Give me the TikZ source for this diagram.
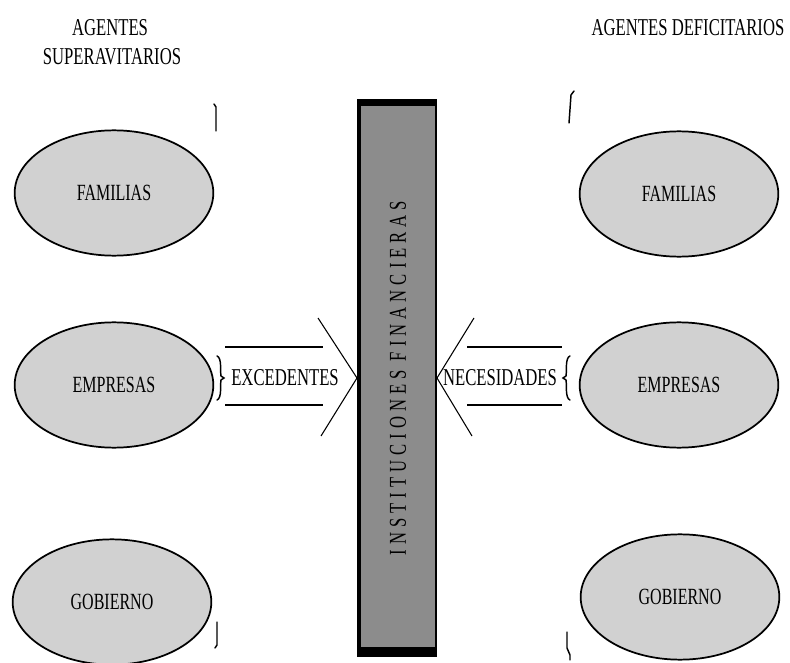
\documentclass[tikz,border=0pt]{standalone}
\usepackage{fontspec}
\usetikzlibrary{shapes.geometric}
\setmainfont{Liberation Serif}
\newfontfamily\spacedfont[LetterSpace=30]{Liberation Serif}
\newcommand{\stre}[1]{\scalebox{1}[1.45]{#1}}
\begin{document}
\begin{tikzpicture}[x=0.75pt,y=-0.75pt,
  txt/.style={inner sep=0pt,font=\fontsize{12.5}{14}\selectfont},
  agent/.style={ellipse,draw=black,line width=1.3pt,fill=black!18,
    minimum width=149pt,minimum height=94pt,inner sep=0pt,
    font=\fontsize{12}{14}\selectfont},
  frag/.style={line width=1.1pt,line cap=round},
  thin/.style={line width=0.8pt}]
\useasboundingbox (0,0) rectangle (790,663);
% headers
\node[txt] (hl1) at (110,28) {\stre{AGENTES}};
\node[txt] (hl2) at (112,57) {\stre{SUPERAVITARIOS}};
\node[txt] (hr) at (688,28) {\stre{AGENTES DEFICITARIOS}};
% left ellipses
\node[agent] (lf) at (114,193) {\stre{FAMILIAS}};
\node[agent] (le) at (114,385) {\stre{EMPRESAS}};
\node[agent] (lg) at (112,602) {\stre{GOBIERNO}};
% right ellipses
\node[agent] (rf) at (679,194) {\stre{FAMILIAS}};
\node[agent] (re) at (679,385) {\stre{EMPRESAS}};
\node[agent] (rg) at (680,597) {\stre{GOBIERNO}};
% central box
\fill[black!45] (358,101) rectangle (436,652);
\draw[line width=3pt] (359,103) -- (359,654);
\draw[line width=1.6pt] (436,102) -- (436,654);
\fill[black] (357,99) rectangle (437,106);
\fill[black] (357,647) rectangle (437,657);
\node[txt,rotate=90] (inst) at (398,378) {\stre{\spacedfont INSTITUCIONES FINANCIERAS}};
% left arrow
\coordinate (lt) at (357,378);
\draw[thin] (225,347) -- (323,347);
\draw[thin] (225,405) -- (323,405);
\draw[thin] (318,318) -- (lt) -- (321,436);
\node[txt] (exc) at (285,378) {\stre{EXCEDENTES}};
% right arrow
\coordinate (rt) at (437,378);
\draw[thin] (467,347) -- (562,347);
\draw[thin] (467,405) -- (562,405);
\draw[thin] (474,318) -- (rt) -- (472,436);
\node[txt] (nec) at (500,378) {\stre{NECESIDADES}};
% brace pieces
\draw[frag] (217,356) .. controls (222,358) and (220,370) .. (221,376) -- (224,378) -- (221,380) .. controls (220,386) and (222,398) .. (217,400);
\draw[frag] (570,356) .. controls (565,358) and (567,370) .. (566,376) -- (563,378) -- (566,380) .. controls (567,386) and (565,398) .. (570,400);
\draw[frag] (214,104) -- (216,107) -- (216,131);
\draw[frag] (217,622) -- (217,645) -- (215,648);
\draw[frag] (574,91) -- (571,95) -- (569,123);
\draw[frag] (567,632) -- (567,648) -- (570,655) -- (570,660);
\end{tikzpicture}
\end{document}
